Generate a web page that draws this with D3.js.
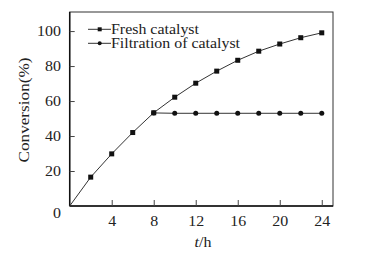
<!DOCTYPE html>
<html><head><meta charset="utf-8">
<script src="https://cdn.jsdelivr.net/npm/d3@7"></script>
<style>body{margin:0;background:#fff}svg{display:block}text{font-family:"Liberation Serif","Times New Roman",serif;fill:#222}</style>
</head><body><svg id="c" width="365" height="260"></svg>
<script>
const hours = [0,2,4,6,8,10,12,14,16,18,20,22,24];
const freshValues = [0,16.5,29.8,42,53.3,62.2,70.2,77.1,83.3,88.5,92.6,96.2,99];
const filtHours = [8,10,12,14,16,18,20,22,24];
const filtValues = [53.2,53,53,53,53,53,53,53,53];
const xTicks = [4,8,12,16,20,24];
const yTicks = [0,20,40,60,80,100];
const seriesNames = ["Fresh catalyst","Filtration of catalyst"];

const svg = d3.select("#c");
const L=69.7, R=333, T=12, B=206;
const x = d3.scaleLinear().domain([0,25.07]).range([L,R]);
const y = d3.scaleLinear().domain([0,110.9]).range([B,T]);

// frame
svg.append("rect").attr("x",L).attr("y",T).attr("width",R-L).attr("height",B-T)
  .attr("fill","none").attr("stroke","#333").attr("stroke-width",1);
svg.append("line").attr("x1",L).attr("x2",L).attr("y1",T).attr("y2",B).attr("stroke","#111").attr("stroke-width",1.5);
svg.append("line").attr("x1",L).attr("x2",R).attr("y1",B).attr("y2",B).attr("stroke","#111").attr("stroke-width",1.5);

// ticks inward
const xa = svg.append("g").attr("transform",`translate(0,${B})`)
  .call(d3.axisBottom(x).tickValues(xTicks).tickSizeInner(-6).tickSizeOuter(0).tickPadding(9.7));
xa.select(".domain").remove();
xa.selectAll("line").attr("stroke","#444");
xa.selectAll("text").attr("font-size",14.5).attr("fill","#222").attr("transform","scale(1.1,1)");

const ya = svg.append("g").attr("transform",`translate(${L},0)`)
  .call(d3.axisLeft(y).tickValues(yTicks).tickSizeInner(-5).tickSizeOuter(0).tickPadding(7.9));
ya.select(".domain").remove();
ya.selectAll("line").attr("stroke","#444");
ya.selectAll("line").filter(d=>d===0).remove();
ya.selectAll("text").attr("font-size",14.5).attr("fill","#222").attr("transform","scale(1.1,1)");
ya.selectAll(".tick").filter(d=>d===0).select("text").attr("dy","0.78em");

// axis titles
svg.append("text").attr("transform","translate(29,110) rotate(-90)").attr("text-anchor","middle")
  .attr("font-size",14.5).attr("textLength",105).attr("lengthAdjust","spacingAndGlyphs").text("Conversion(%)");
const xt = svg.append("text").attr("transform","translate(203,247) scale(1.1,1)").attr("text-anchor","middle").attr("font-size",14.5);
xt.append("tspan").attr("font-style","italic").text("t");
xt.append("tspan").text("/h");

const line = d3.line().x(d=>x(d[0])).y(d=>y(d[1]));
const fresh = hours.map((h,i)=>[h,freshValues[i]]);
const filt = filtHours.map((h,i)=>[h,filtValues[i]]);

svg.append("path").datum(filt).attr("d",line).attr("fill","none").attr("stroke","#333").attr("stroke-width",1);
svg.selectAll(".c").data(filt).enter().append("circle")
  .attr("cx",d=>x(d[0])).attr("cy",d=>y(d[1])).attr("r",2.5).attr("fill","#111");
svg.append("path").datum(fresh).attr("d",line).attr("fill","none").attr("stroke","#333").attr("stroke-width",1);
svg.selectAll(".s").data(fresh.filter(d=>d[1]>0)).enter().append("rect")
  .attr("x",d=>x(d[0])-2.5).attr("y",d=>y(d[1])-2.5).attr("width",5).attr("height",5).attr("fill","#111");

// legend
const lg = svg.append("g");
const legLens = [88,129];
[0,1].forEach(i=>{
  const yy = 29.3 + i*14;
  lg.append("line").attr("x1",88).attr("x2",111).attr("y1",yy).attr("y2",yy).attr("stroke","#333").attr("stroke-width",1);
  if(i===0) lg.append("rect").attr("x",99.7-2).attr("y",yy-2).attr("width",4).attr("height",4).attr("fill","#111");
  else lg.append("circle").attr("cx",99.7).attr("cy",yy).attr("r",2).attr("fill","#111");
  lg.append("text").attr("x",111).attr("y",yy+4.5).attr("font-size",14.5)
    .attr("textLength",legLens[i]).attr("lengthAdjust","spacingAndGlyphs").text(seriesNames[i]);
});
</script></body></html>
